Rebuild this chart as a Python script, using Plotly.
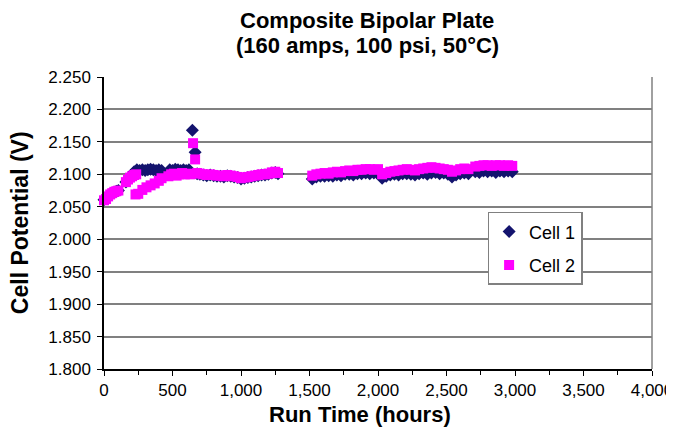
import plotly.graph_objects as go

# ---- data ----
hours_c1 = [0, 15, 30, 45, 60, 75, 90, 105,
            160, 175, 190, 205, 220, 240, 260, 280, 300, 320, 340, 360, 380, 400, 420,
            480, 500, 520, 540, 560, 580, 600, 620, 645, 665, 680, 700,
            725, 750, 775, 800, 825, 850, 875, 900, 925, 950, 975, 1000, 1025, 1050,
            1075, 1100, 1125, 1150, 1175, 1200, 1225, 1250, 1270,
            1520, 1550, 1580, 1610, 1640, 1670, 1700, 1730, 1760, 1790, 1820, 1850,
            1880, 1910, 1940, 1970, 2000, 2030, 2060, 2090, 2120, 2150, 2180, 2210,
            2240, 2270, 2300, 2330, 2360, 2390, 2420, 2450, 2480, 2510, 2540, 2570,
            2600, 2630, 2660, 2710, 2740, 2770, 2800, 2830, 2860, 2890, 2920, 2950, 2980]
cell1 = [2.061, 2.063, 2.066, 2.069, 2.071, 2.072, 2.074, 2.075,
         2.088, 2.092, 2.095, 2.097, 2.104, 2.107, 2.106, 2.107, 2.106, 2.107, 2.108, 2.107, 2.106, 2.107, 2.106,
         2.107, 2.106, 2.108, 2.107, 2.106, 2.107, 2.106, 2.107, 2.168, 2.134, 2.101, 2.100,
         2.099, 2.098, 2.099, 2.098, 2.097, 2.097, 2.096, 2.098, 2.097, 2.096, 2.095, 2.093, 2.094, 2.095,
         2.096, 2.097, 2.098, 2.099, 2.099, 2.100, 2.102, 2.103, 2.101,
         2.093, 2.096, 2.097, 2.097, 2.098, 2.097, 2.099, 2.098, 2.100, 2.100, 2.099, 2.101,
         2.101, 2.102, 2.101, 2.102, 2.101, 2.094, 2.097, 2.099, 2.100, 2.099, 2.101, 2.101,
         2.100, 2.099, 2.101, 2.102, 2.100, 2.102, 2.103, 2.101, 2.102, 2.100, 2.096, 2.099,
         2.101, 2.102, 2.101, 2.104, 2.103, 2.105, 2.104, 2.105, 2.103, 2.105, 2.104, 2.105, 2.104]

hours_c2 = [0, 15, 30, 45, 60, 75, 90, 105,
            160, 175, 190, 205, 220, 235,
            230, 250, 280, 310, 340, 370, 400, 420,
            470, 490, 510, 530, 550, 570, 590, 610, 630, 650, 665, 680, 700,
            725, 750, 775, 800, 825, 850, 875, 900, 925, 950, 975, 1000, 1025, 1050,
            1075, 1100, 1125, 1150, 1175, 1200, 1225, 1250, 1270,
            1520, 1550, 1580, 1610, 1640, 1670, 1700, 1730, 1760, 1790, 1820, 1850,
            1880, 1910, 1940, 1970, 2000, 2030, 2060, 2090, 2120, 2150, 2180, 2210,
            2240, 2270, 2300, 2330, 2360, 2390, 2420, 2450, 2480, 2510, 2540, 2570,
            2600, 2630, 2660, 2710, 2740, 2770, 2800, 2830, 2860, 2890, 2920, 2950, 2980]
cell2 = [2.060, 2.062, 2.066, 2.069, 2.071, 2.073, 2.074, 2.075,
         2.088, 2.092, 2.095, 2.097, 2.099, 2.100,
         2.069, 2.070, 2.076, 2.080, 2.083, 2.086, 2.090, 2.094,
         2.097, 2.100, 2.101, 2.098, 2.100, 2.102, 2.100, 2.101, 2.100, 2.148, 2.123, 2.102, 2.101,
         2.100, 2.099, 2.100, 2.099, 2.098, 2.098, 2.097, 2.099, 2.098, 2.097, 2.096, 2.094, 2.095, 2.096,
         2.097, 2.098, 2.099, 2.100, 2.100, 2.101, 2.103, 2.104, 2.102,
         2.098, 2.100, 2.101, 2.102, 2.101, 2.103, 2.104, 2.103, 2.105, 2.106, 2.105, 2.107,
         2.107, 2.108, 2.108, 2.107, 2.108, 2.100, 2.102, 2.104, 2.105, 2.106, 2.107, 2.108,
         2.107, 2.106, 2.108, 2.109, 2.110, 2.111, 2.110, 2.109, 2.108, 2.107, 2.104, 2.106,
         2.108, 2.109, 2.108, 2.112, 2.113, 2.114, 2.114, 2.113, 2.114, 2.114, 2.113, 2.114, 2.113]

x_ticks = [0, 500, 1000, 1500, 2000, 2500, 3000, 3500, 4000]
y_ticks = [1.800, 1.850, 1.900, 1.950, 2.000, 2.050, 2.100, 2.150, 2.200, 2.250]

FONT = "Liberation Sans, Arial, sans-serif"

fig = go.Figure()
fig.add_trace(go.Scatter(
    x=hours_c1, y=cell1, mode="markers", name="Cell 1", legendgroup="c1", cliponaxis=False,
    marker=dict(symbol="diamond", size=10, color="#14146e", line=dict(width=0))))
fig.add_trace(go.Scatter(
    x=hours_c2, y=cell2, mode="markers", name="Cell 2", legendgroup="c2", cliponaxis=False,
    marker=dict(symbol="square", size=10, color="#ff00ff", line=dict(width=0))))

# the page adds an 8px body margin, so the figure is 8px smaller than the window
fig.update_layout(
    width=666, height=435,
    margin=dict(l=96, r=22, t=69, b=74),
    paper_bgcolor="white", plot_bgcolor="white",
    font=dict(family=FONT, size=17, color="black"),
    showlegend=True,
    legend=dict(x=0.70, y=0.538, xanchor="left", yanchor="top",
                bgcolor="white", bordercolor="#808080", borderwidth=1.5,
                font=dict(size=18, family=FONT), tracegroupgap=7,
                itemsizing="trace"),
    xaxis=dict(range=[0, 4000], tickvals=x_ticks, tickformat=",d",
               showgrid=False, zeroline=False, automargin=False,
               showline=True, linecolor="black", linewidth=1.5,
               ticks="outside", ticklen=5, tickcolor="black",
               minor=dict(dtick=250, ticks="outside", ticklen=4, tickcolor="black"),
               tickfont=dict(size=17)),
    yaxis=dict(range=[1.8, 2.25], tickvals=y_ticks, tickformat=".3f",
               showgrid=True, gridcolor="#808080", gridwidth=1.5, zeroline=False,
               automargin=False, ticklabelstandoff=3,
               showline=True, linecolor="black", linewidth=1.5,
               ticks="outside", ticklen=5, tickcolor="black",
               tickfont=dict(size=17)),
    annotations=[
        dict(text="<b>Composite Bipolar Plate</b>",
             xref="paper", yref="paper", x=0.48, y=1.195,
             xanchor="center", yanchor="middle", showarrow=False,
             font=dict(size=22, family=FONT)),
        dict(text="<b>(160 amps, 100 psi, 50°C)</b>",
             xref="paper", yref="paper", x=0.48, y=1.108,
             xanchor="center", yanchor="middle", showarrow=False,
             font=dict(size=22, family=FONT)),
        dict(text="<b>Run Time (hours)</b>",
             xref="paper", yref="paper", x=0.467, y=-0.155,
             xanchor="center", yanchor="middle", showarrow=False,
             font=dict(size=22, family=FONT)),
        dict(text="<b>Cell Potential (V)</b>", textangle=-90,
             xref="paper", yref="paper", x=-0.153, y=0.5,
             xanchor="center", yanchor="middle", showarrow=False,
             font=dict(size=23, family=FONT)),
    ],
    shapes=[dict(type="line", xref="paper", yref="paper", x0=1, x1=1, y0=0, y1=1,
                 line=dict(color="#808080", width=1.5))],
)

fig.write_html("out.html")
